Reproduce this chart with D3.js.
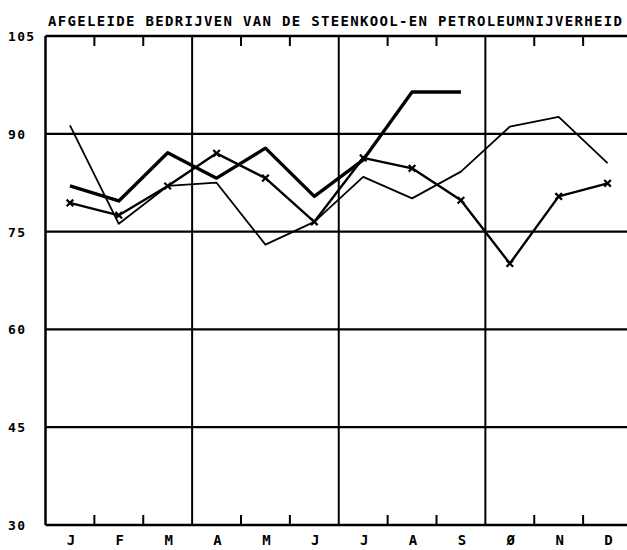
<!DOCTYPE html>
<html>
<head>
<meta charset="utf-8">
<script src="https://cdn.jsdelivr.net/npm/d3@7"></script>
<style>
  body { margin: 0; background: #fff; }
  svg { display: block; }
  text { font-family: "DejaVu Sans Mono", monospace; font-weight: bold; fill: #000; }
</style>
</head>
<body>
<svg id="chart" width="627" height="550"></svg>
<script>
// data
var monthLabels = ["J", "F", "M", "A", "M", "J", "J", "A", "S", "\u00D8", "N", "D"];
var yTicks = [30, 45, 60, 75, 90, 105];
var thickSeries = [82, 79.7, 87.1, 83.2, 87.8, 80.4, 86, 96.4, 96.4];
var thinSeries = [91.3, 76.2, 82, 82.5, 73, 76.5, 83.4, 80.1, 84.2, 91.1, 92.6, 85.5];
var crossSeries = [79.4, 77.5, 82, 87, 83.2, 76.5, 86.3, 84.7, 79.8, 70.1, 80.4, 82.4];
var title = "AFGELEIDE BEDRIJVEN VAN DE STEENKOOL-EN PETROLEUMNIJVERHEID";

var svg = d3.select("#chart");
var plotLeft = 45.5, plotRight = 632, plotTop = 36, plotBottom = 525;

var x = d3.scaleBand().domain(d3.range(12)).range([plotLeft, plotRight]);
var y = d3.scaleLinear().domain([30, 105]).range([plotBottom, plotTop]);
var cx = function(i) { return x(i) + x.bandwidth() / 2; };

// title
svg.append("text")
   .attr("x", 48)
   .attr("y", 26)
   .attr("font-size", "14px")
   .attr("textLength", 574)
   .attr("lengthAdjust", "spacing")
   .text(title);

// horizontal grid + frame
svg.append("g")
   .selectAll("line")
   .data(yTicks)
   .enter().append("line")
   .attr("x1", plotLeft)
   .attr("x2", plotRight)
   .attr("y1", function(d) { return y(d); })
   .attr("y2", function(d) { return y(d); })
   .attr("stroke", "#000")
   .attr("stroke-width", function(d) { return (d == 30 || d == 105) ? 2.5 : 2.2; });

svg.append("line")
   .attr("x1", plotLeft).attr("x2", plotLeft)
   .attr("y1", plotTop).attr("y2", plotBottom)
   .attr("stroke", "#000").attr("stroke-width", 2.5);

// month boundaries: quarters get a full line, others short ticks
var bounds = d3.range(1, 12);
var g = svg.append("g");
bounds.forEach(function(b) {
    var bx = x(b);
    if (b % 3 == 0) {
        g.append("line")
         .attr("x1", bx).attr("x2", bx)
         .attr("y1", plotTop).attr("y2", plotBottom)
         .attr("stroke", "#000").attr("stroke-width", 2);
    } else {
        g.append("line")
         .attr("x1", bx).attr("x2", bx)
         .attr("y1", plotTop).attr("y2", plotTop + 10)
         .attr("stroke", "#000").attr("stroke-width", 2);
        g.append("line")
         .attr("x1", bx).attr("x2", bx)
         .attr("y1", plotBottom).attr("y2", plotBottom - 10)
         .attr("stroke", "#000").attr("stroke-width", 2);
    }
});

// y labels, left aligned
svg.append("g")
   .selectAll("text")
   .data(yTicks)
   .enter().append("text")
   .attr("x", 8)
   .attr("y", function(d) { return y(d) + 5; })
   .attr("font-size", "13px")
   .attr("letter-spacing", "1.3px")
   .text(function(d) { return d; });

// month labels
svg.append("g")
   .selectAll("text")
   .data(monthLabels)
   .enter().append("text")
   .attr("x", function(d, i) { return cx(i) + 1; })
   .attr("y", 545)
   .attr("font-size", "14px")
   .attr("text-anchor", "middle")
   .text(function(d) { return d; });

var line = d3.line()
    .x(function(d, i) { return cx(i); })
    .y(function(d) { return y(d); });

svg.append("path")
   .datum(thinSeries)
   .attr("d", line)
   .attr("fill", "none")
   .attr("stroke", "#000")
   .attr("stroke-width", 1.8)
   .attr("stroke-linejoin", "round");

svg.append("path")
   .datum(crossSeries)
   .attr("d", line)
   .attr("fill", "none")
   .attr("stroke", "#000")
   .attr("stroke-width", 2.4)
   .attr("stroke-linejoin", "round");

svg.append("path")
   .datum(thickSeries)
   .attr("d", line)
   .attr("fill", "none")
   .attr("stroke", "#000")
   .attr("stroke-width", 3.4)
   .attr("stroke-linejoin", "round");

// small cross markers
svg.append("g")
   .selectAll("path")
   .data(crossSeries)
   .enter().append("path")
   .attr("transform", function(d, i) { return "translate(" + cx(i) + "," + y(d) + ")"; })
   .attr("d", d3.symbol().type(d3.symbolX).size(30))
   .attr("fill", "none")
   .attr("stroke", "#000")
   .attr("stroke-width", 2.2);
</script>
</body>
</html>
